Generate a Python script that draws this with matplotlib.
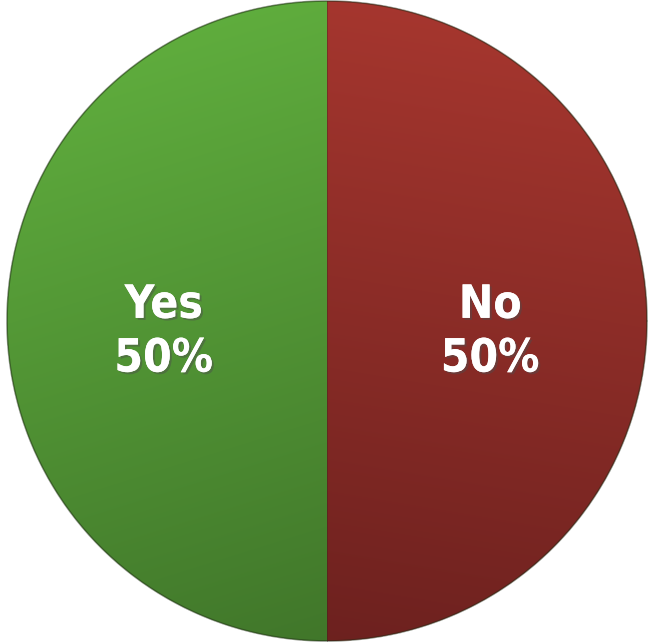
import matplotlib.pyplot as plt
import matplotlib.patheffects as pe
import numpy as np

labels = ["Yes", "No"]
values = [50, 50]
top_colors = ["#62b23f", "#a8372f"]
bottom_colors = ["#3d7028", "#6a201e"]

fig = plt.figure(figsize=(6.54, 6.44), dpi=100)
ax = fig.add_axes([0, 0, 1, 1])

r_px = 320
wedges, _ = ax.pie(values, startangle=90, counterclock=True, radius=1,
                   colors=top_colors, wedgeprops=dict(linewidth=0))
ax.set_aspect("auto")
ax.set_xlim(-327 / r_px, 327 / r_px)
ax.set_ylim(-323 / r_px, 321 / r_px)


def hex2rgb(h):
    h = h.lstrip("#")
    return np.array([int(h[i:i + 2], 16) / 255 for i in (0, 2, 4)])


# gradient fill clipped to each wedge
yy, xx = np.mgrid[1:-1:400j, -1:1:400j]
for i, w in enumerate(wedges):
    c1, c2 = hex2rgb(top_colors[i]), hex2rgb(bottom_colors[i])
    if i == 0:
        t = np.clip((-(yy) * 0.8 + xx * 0.25 + 1) / 2, 0, 1)
    else:
        t = np.clip((-(yy) * 0.9 - xx * 0.15 + 1) / 2, 0, 1)
    img = c1[None, None, :] * (1 - t[..., None]) + c2[None, None, :] * t[..., None]
    im = ax.imshow(img, extent=[-1, 1, -1, 1], origin="upper", zorder=2,
                   interpolation="bilinear")
    im.set_clip_path(w)

# dark rim along the edge
theta = np.linspace(0, 2 * np.pi, 400)
ax.plot(np.cos(theta), np.sin(theta), color="#1e2a14", lw=1.2, alpha=0.5, zorder=3)
ax.plot([0, 0], [-1, 1], color="#2a2a1a", lw=0.6, alpha=0.4, zorder=3)

for i, w in enumerate(wedges):
    ang = np.deg2rad((w.theta1 + w.theta2) / 2)
    x, y = 0.51 * np.cos(ang), 0.51 * np.sin(ang) - 0.035
    ax.text(x, y, f"{labels[i]}\n{values[i]}%", ha="center", va="center",
            color="white", fontsize=33, fontweight="bold", fontstretch="condensed",
            family=["DejaVu Sans"], linespacing=1.25,
            zorder=4,
            path_effects=[pe.withSimplePatchShadow(offset=(1.5, -1.5),
                                                   alpha=0.45), pe.Normal()])

ax.axis("off")
fig.savefig("out.png", dpi=100)
